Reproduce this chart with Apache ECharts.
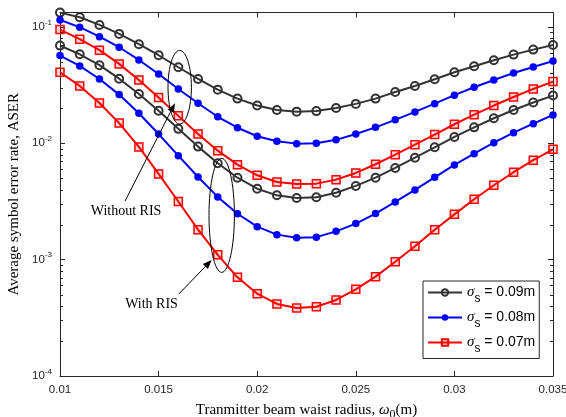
<!DOCTYPE html>
<html>
<head>
<meta charset="utf-8">
<script src="https://cdn.jsdelivr.net/npm/echarts@6/dist/echarts.min.js"></script>
<style>
  html, body { margin: 0; padding: 0; background: #fff; }
  #main { width: 566px; height: 417px; }
</style>
</head>
<body>
<div id="main"></div>
<script>
// beam waist radius (m)
var xVals = [0.010, 0.011, 0.012, 0.013, 0.014, 0.015, 0.016, 0.017, 0.018, 0.019,
             0.020, 0.021, 0.022, 0.023, 0.024, 0.025, 0.026, 0.027, 0.028, 0.029,
             0.030, 0.031, 0.032, 0.033, 0.034, 0.035];

// without RIS
var ser09NoRis = [0.1327, 0.1212, 0.104, 0.0871, 0.0710, 0.0571, 0.0450, 0.0357, 0.0289, 0.0242,
                  0.0211, 0.0193, 0.0187, 0.0189, 0.0201, 0.0218, 0.0242, 0.0276, 0.0311, 0.0355,
                  0.0408, 0.0459, 0.0517, 0.0578, 0.0638, 0.0700];
var ser08NoRis = [0.1149, 0.0994, 0.0825, 0.0669, 0.0520, 0.0394, 0.0293, 0.0221, 0.0169, 0.0136,
                  0.0115, 0.0104, 0.00993, 0.0100, 0.0107, 0.0120, 0.0137, 0.0159, 0.0186, 0.0219,
                  0.0259, 0.0303, 0.0350, 0.0402, 0.0453, 0.0510];
var ser07NoRis = [0.0948, 0.0784, 0.0631, 0.0481, 0.0350, 0.0247, 0.0172, 0.0120, 0.00864, 0.00655,
                  0.00531, 0.00465, 0.00447, 0.00450, 0.00487, 0.00556, 0.00660, 0.00798, 0.00973, 0.01187,
                  0.01457, 0.0176, 0.0211, 0.0250, 0.0293, 0.0339];
// with RIS
var ser09Ris = [0.0691, 0.0582, 0.0469, 0.0359, 0.0265, 0.0190, 0.0133, 0.00936, 0.00673, 0.00506,
                0.00407, 0.00357, 0.00339, 0.00344, 0.00376, 0.00430, 0.00506, 0.00614, 0.00752, 0.00924,
                0.01133, 0.0137, 0.0164, 0.0193, 0.0224, 0.0257];
var ser08Ris = [0.0567, 0.0462, 0.0357, 0.0262, 0.0181, 0.0120, 0.00783, 0.00513, 0.00346, 0.00248,
                0.00192, 0.00164, 0.00154, 0.00156, 0.00175, 0.00204, 0.00249, 0.00313, 0.00397, 0.00510,
                0.00651, 0.00814, 0.01012, 0.01234, 0.01475, 0.0175];
var ser07Ris = [0.0408, 0.0311, 0.0222, 0.0149, 0.00930, 0.00545, 0.00316, 0.00181, 0.00110, 0.000705,
                0.000510, 0.000416, 0.000384, 0.000394, 0.000450, 0.000556, 0.000714, 0.000960, 0.001305, 0.001805,
                0.00245, 0.00330, 0.00436, 0.00564, 0.00715, 0.00888];

var legendNames = ['0.09m', '0.08m', '0.07m'];

var axisColor = '#262626';
var chart = echarts.init(document.getElementById('main'));

function pairs(ys) {
    return xVals.map(function (x, i) { return [x, ys[i]]; });
}

function blackLine(ys) {
    return {
        name: legendNames[0], type: 'line', data: pairs(ys),
        symbol: 'circle', symbolSize: 8,
        lineStyle: { color: '#333333', width: 2 },
        itemStyle: { color: 'rgba(255,255,255,0)', borderColor: '#333333', borderWidth: 2 },
        emphasis: { disabled: true }, z: 3
    };
}
function blueLine(ys) {
    return {
        name: legendNames[1], type: 'line', data: pairs(ys),
        symbol: 'circle', symbolSize: 7.5,
        lineStyle: { color: '#0000ff', width: 2 },
        itemStyle: { color: '#0000ff', borderColor: '#0000ff', borderWidth: 0 },
        emphasis: { disabled: true }, z: 3
    };
}
function redLine(ys) {
    return {
        name: legendNames[2], type: 'line', data: pairs(ys),
        symbol: 'rect', symbolSize: 8,
        lineStyle: { color: '#ff0000', width: 2 },
        itemStyle: { color: 'rgba(255,0,0,0.15)', borderColor: '#ff0000', borderWidth: 1.5 },
        emphasis: { disabled: true }, z: 3
    };
}

function powLabel(v) {
    var l = Math.log(v) / Math.LN10;
    var e = Math.round(l);
    if (Math.abs(l - e) > 1e-6) return '';
    return '10{sup|' + e + '}';
}

var tickFont = { fontFamily: 'Liberation Sans', fontSize: 11.5, color: axisColor };

var option = {
    animation: false,
    backgroundColor: '#fff',
    grid: { left: 60, right: 13, top: 12.5, bottom: 41, containLabel: false, outerBoundsMode: 'none' },
    xAxis: [{
        type: 'value', min: 0.01, max: 0.035, interval: 0.005, position: 'bottom',
        name: '{n|Tranmitter beam waist radius, }{w|ω}{sub|0}{n|(m)}',
        nameLocation: 'middle', nameGap: 23,
        nameTextStyle: {
            rich: {
                n: { fontFamily: 'Liberation Serif', fontSize: 15, color: '#000' },
                w: { fontFamily: 'Liberation Serif', fontSize: 15, fontStyle: 'italic', color: '#000' },
                sub: { fontFamily: 'Liberation Serif', fontSize: 12, color: '#000', padding: [10, 0, 0, 0] }
            }
        },
        axisLine: { show: true, lineStyle: { color: axisColor, width: 1 } },
        axisTick: { show: true, inside: true, length: 5, lineStyle: { color: axisColor } },
        axisLabel: Object.assign({ margin: 8, formatter: function (v) { return String(+v.toFixed(3)); } }, tickFont),
        splitLine: { show: false }
    }, {
        type: 'value', min: 0.01, max: 0.035, interval: 0.005, position: 'top',
        axisLine: { show: true, lineStyle: { color: axisColor, width: 1 } },
        axisTick: { show: true, inside: true, length: 5, lineStyle: { color: axisColor } },
        axisLabel: { show: false },
        splitLine: { show: false }
    }],
    yAxis: [{
        type: 'log', logBase: 10, min: 1e-4, max: 0.133, position: 'left',
        name: 'Average symbol error rate, ASER',
        nameLocation: 'middle', nameGap: 33,
        nameTextStyle: { fontFamily: 'Liberation Serif', fontSize: 15, color: '#000' },
        axisLine: { show: true, lineStyle: { color: axisColor, width: 1 } },
        axisTick: { show: true, inside: true, length: 5, lineStyle: { color: axisColor } },
        axisLabel: Object.assign({
            margin: 8, formatter: powLabel,
            rich: { sup: { fontFamily: 'Liberation Sans', fontSize: 8, color: axisColor, padding: [0, 0, 9, 0] } }
        }, tickFont),
        splitLine: { show: false }
    }, {
        type: 'log', logBase: 10, min: 1e-4, max: 0.133, position: 'right',
        axisLine: { show: true, lineStyle: { color: axisColor, width: 1 } },
        axisTick: { show: true, inside: true, length: 5, lineStyle: { color: axisColor } },
        axisLabel: { show: false },
        splitLine: { show: false }
    }],
    legend: {
        data: legendNames, orient: 'vertical', left: 423, top: 281,
        backgroundColor: '#fff', borderColor: axisColor, borderWidth: 1, borderRadius: 0,
        padding: [4, 4, 4, 4], itemGap: 5.5, itemWidth: 34, itemHeight: 8,
        selectedMode: false,
        formatter: function (n) { return '{g|σ}{s|s} = ' + n; },
        textStyle: {
            fontFamily: 'Liberation Sans', fontSize: 14, color: '#000',
            rich: {
                g: { fontFamily: 'Liberation Serif', fontStyle: 'italic', fontSize: 15, color: '#000' },
                s: { fontFamily: 'Liberation Sans', fontSize: 12, color: '#000', padding: [12, 0, 0, 0] }
            }
        }
    },
    series: [
        blackLine(ser09NoRis), blueLine(ser08NoRis), redLine(ser07NoRis),
        blackLine(ser09Ris), blueLine(ser08Ris), redLine(ser07Ris)
    ]
};
chart.setOption(option);

// annotations in data coordinates: [x, y]
var ellipseNoRis = { c: [0.01607, 0.0303], rx: 11.7, ry: 36.8 };
var ellipseRis = { c: [0.0182, 0.0024], rx: 12.7, ry: 57 };
var arrowNoRis = { from: [0.0133, 0.00319], to: [0.01583, 0.0221] };
var arrowRis = { from: [0.01603, 0.000507], to: [0.01769, 0.000993] };
var textNoRis = { at: [0.01335, 0.00262], text: 'Without RIS' };
var textRis = { at: [0.01464, 0.000415], text: 'With RIS' };

function px(p) { return chart.convertToPixel({ xAxisIndex: 0, yAxisIndex: 0 }, p); }

var g = [];
// minor log ticks (2..9 per decade) on left and right axes
var left = chart.convertToPixel({ xAxisIndex: 0 }, 0.01);
var right = chart.convertToPixel({ xAxisIndex: 0 }, 0.035);
for (var k = -4; k <= -1; k++) {
    for (var m = 2; m <= 9; m++) {
        var v = m * Math.pow(10, k);
        if (v > 0.133) continue;
        var yy = Math.round(chart.convertToPixel({ yAxisIndex: 0 }, v)) + 0.5;
        g.push({ type: 'line', silent: true, shape: { x1: left, y1: yy, x2: left + 3, y2: yy }, style: { stroke: axisColor, lineWidth: 1 } });
        g.push({ type: 'line', silent: true, shape: { x1: right, y1: yy, x2: right - 3, y2: yy }, style: { stroke: axisColor, lineWidth: 1 } });
    }
}

[ellipseNoRis, ellipseRis].forEach(function (e) {
    var c = px(e.c);
    g.push({ type: 'ellipse', silent: true, z: 10, shape: { cx: c[0], cy: c[1], rx: e.rx, ry: e.ry }, style: { fill: 'none', stroke: '#000', lineWidth: 1 } });
});

[arrowNoRis, arrowRis].forEach(function (a) {
    var p0 = px(a.from), p1 = px(a.to);
    var dx = p1[0] - p0[0], dy = p1[1] - p0[1];
    var len = Math.sqrt(dx * dx + dy * dy);
    var ux = dx / len, uy = dy / len;
    var hl = 9, hw = 3.5;
    var bx = p1[0] - ux * hl, by = p1[1] - uy * hl;
    g.push({ type: 'line', silent: true, z: 10, shape: { x1: p0[0], y1: p0[1], x2: bx, y2: by }, style: { stroke: '#000', lineWidth: 1 } });
    g.push({ type: 'polygon', silent: true, z: 10, shape: { points: [[p1[0], p1[1]], [bx - uy * hw, by + ux * hw], [bx + uy * hw, by - ux * hw]] }, style: { fill: '#000' } });
});

[textNoRis, textRis].forEach(function (t) {
    var p = px(t.at);
    g.push({ type: 'text', silent: true, z: 10, x: p[0], y: p[1], style: {
        text: t.text, font: '14px "Liberation Serif"', fill: '#000',
        align: 'center', verticalAlign: 'middle', textAlign: 'center', textVerticalAlign: 'middle'
    } });
});

chart.setOption({ graphic: g });
</script>
</body>
</html>
